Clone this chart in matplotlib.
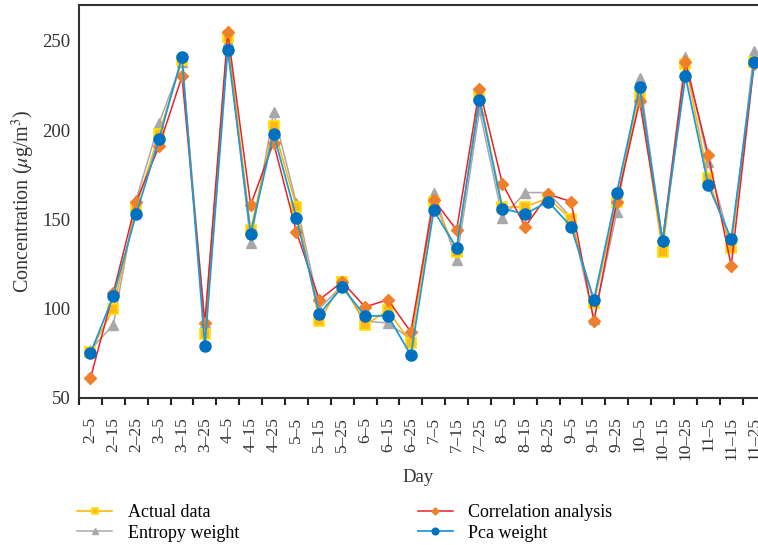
import matplotlib
matplotlib.use("Agg")
import matplotlib.pyplot as plt
import numpy as np

plt.rcParams["font.family"] = ["Liberation Serif", "DejaVu Serif"]
plt.rcParams["mathtext.fontset"] = "stix"

months = list(range(2, 12))
days = [5, 15, 25]
categories = [f"{m}\u2013{d}" for m in months for d in days]

actual = [76, 100, 157, 198, 239, 86, 252, 144, 202, 157,
          93, 115, 91, 99, 81, 160, 132, 219, 157, 157,
          162, 150, 103, 160, 219, 132, 237, 173, 134, 238]
correlation = [61, 109, 160, 191, 230, 92, 255, 158, 193, 143,
               105, 115, 101, 105, 87, 161, 144, 223, 170, 146,
               164, 160, 93, 160, 216, 138, 238, 186, 124, 237]
entropy = [77, 91, 161, 204, 238, 92, 250, 137, 210, 159,
           100, 113, 93, 92, 83, 165, 127, 211, 151, 165,
           165, 151, 94, 154, 229, 138, 241, 182, 135, 244]
pca = [75, 107, 153, 195, 241, 79, 245, 142, 198, 151,
       97, 112, 96, 96, 74, 155, 134, 217, 156, 153,
       160, 146, 105, 165, 224, 138, 230, 169, 139, 238]

yticks = [50, 100, 150, 200, 250]

W, H = 758, 545
fig = plt.figure(figsize=(W / 100, H / 100), dpi=100)
ax = fig.add_axes([79 / W, 1 - 398 / H, 1 - 79 / W, (398 - 5) / H])

x = np.arange(len(categories))

h_ent, = ax.plot(x, entropy, color="#A8A8A8", lw=1.1, marker="^",
                 ms=6.5, mfc="#A8A8A8", mec="#A8A8A8", zorder=2,
                 label="Entropy weight")
h_act, = ax.plot(x, actual, color="#FFB000", lw=1.1, marker="s",
                 ms=7.5, mfc="#FFB81C", mec="#FFE100", mew=1.2, zorder=3,
                 label="Actual data")
h_cor, = ax.plot(x, correlation, color="#E8232A", lw=1.1, marker="D",
                 ms=6, mfc="#F07F2B", mec="#F07F2B", zorder=4,
                 label="Correlation analysis")
h_pca, = ax.plot(x, pca, color="#1E9BD7", lw=1.3, marker="o",
                 ms=8, mfc="#0070C0", mec="#0070C0", zorder=5,
                 label="Pca weight")

ax.set_xlim(-0.5, 29.17)
ax.set_ylim(50, 270)
ax.set_yticks(yticks)
ax.set_yticklabels([str(v) for v in yticks], fontsize=13.5, color="#333333")
ax.tick_params(axis="y", length=0, pad=6)

ax.set_xticks(x)
ax.set_xticklabels(categories, rotation=90, fontsize=12.5, color="#333333")
ax.set_xticks(np.arange(-0.5, 29.5, 1), minor=True)
ax.tick_params(axis="x", which="major", length=0, pad=13.5)
ax.tick_params(axis="x", which="minor", length=5, width=1.5,
               direction="out", color="#222222")

for side in ("left", "bottom", "top"):
    ax.spines[side].set_linewidth(1.5)
    ax.spines[side].set_color("#333333")
ax.spines["right"].set_visible(False)

ax.set_xlabel("Day", fontsize=13.5, color="#333333", labelpad=6)
ax.set_ylabel(r"Concentration ($\mu$g/m$^3$)", fontsize=14.5,
              color="#333333", labelpad=4)

fig.legend(handles=[h_act, h_ent, h_cor, h_pca], ncol=2,
           loc="upper left", bbox_to_anchor=(77 / W, 1 - 504 / H),
           borderaxespad=0, borderpad=0,
           frameon=False, fontsize=13, handlelength=1.95,
           handletextpad=0.85, columnspacing=9.9, labelspacing=0.2,
           markerscale=0.6)

fig.savefig("out.png", dpi=100)
